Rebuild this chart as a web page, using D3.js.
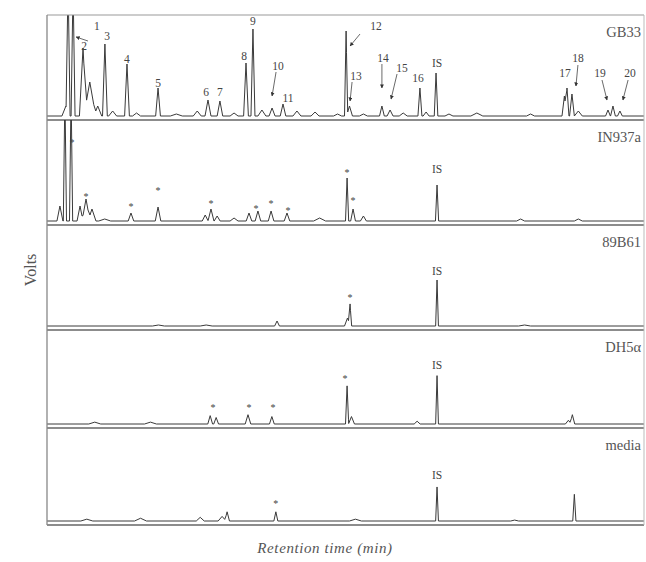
<!DOCTYPE html>
<html>
<head>
<meta charset="utf-8">
<script src="https://cdn.jsdelivr.net/npm/d3@7"></script>
<style>
  html, body { margin: 0; padding: 0; background: #fff; }
  svg { display: block; }
  text { font-family: "Liberation Serif", "DejaVu Serif", serif; }
</style>
</head>
<body>
<svg id="chart" width="646" height="562"></svg>
<script>
// ---------------- DATA ----------------
const samples = ["GB33", "IN937a", "89B61", "DH5\u03b1", "media"];

// peaks: [retention time (min), height (relative volts), half-width (min)]
const peaksGB33 = [
  [0.95, 0.10, 0.2], [1.06, 1.30, 0.1], [1.31, 1.30, 0.1], [1.81, 0.68, 0.18], [2.15, 0.34, 0.3],
  [2.55, 0.10, 0.2], [2.91, 0.72, 0.12], [3.3, 0.05, 0.2], [4.02, 0.52, 0.12], [4.5, 0.03, 0.2],
  [5.58, 0.28, 0.12], [6.5, 0.02, 0.3], [7.55, 0.05, 0.2], [8.09, 0.16, 0.15], [8.69, 0.15, 0.14],
  [9.4, 0.03, 0.2], [10.0, 0.53, 0.12], [10.35, 0.87, 0.1], [10.8, 0.06, 0.2], [11.31, 0.08, 0.15],
  [11.86, 0.12, 0.14], [12.56, 0.05, 0.2], [13.47, 0.04, 0.2], [14.6, 0.02, 0.2], [15.03, 0.85, 0.08],
  [15.2, 0.10, 0.15], [15.9, 0.02, 0.2], [16.83, 0.10, 0.12], [17.24, 0.06, 0.15], [17.9, 0.03, 0.2],
  [18.74, 0.28, 0.1], [19.05, 0.04, 0.15], [19.55, 0.43, 0.09], [20.2, 0.02, 0.2], [21.6, 0.03, 0.3],
  [24.3, 0.02, 0.2], [26.0, 0.20, 0.12], [26.13, 0.28, 0.1], [26.38, 0.22, 0.12], [26.7, 0.05, 0.2],
  [28.19, 0.06, 0.12], [28.44, 0.10, 0.12], [28.79, 0.05, 0.12]
];
const peaksIN937a = [
  [0.65, 0.15, 0.15], [0.90, 1.30, 0.08], [1.21, 1.30, 0.08], [1.66, 0.15, 0.15], [1.96, 0.22, 0.2],
  [2.26, 0.12, 0.2], [2.9, 0.02, 0.3], [4.22, 0.08, 0.14], [5.58, 0.14, 0.14], [7.95, 0.06, 0.15],
  [8.24, 0.12, 0.15], [8.55, 0.05, 0.15], [9.4, 0.03, 0.2], [10.15, 0.08, 0.14], [10.6, 0.10, 0.14],
  [11.26, 0.10, 0.14], [12.06, 0.08, 0.14], [13.7, 0.03, 0.3], [15.08, 0.43, 0.08], [15.38, 0.12, 0.12],
  [15.9, 0.05, 0.15], [19.6, 0.36, 0.08], [23.8, 0.02, 0.2], [26.7, 0.02, 0.2]
];
const peaks89B61 = [
  [5.6, 0.01, 0.3], [8.0, 0.01, 0.3], [11.56, 0.05, 0.12], [15.1, 0.08, 0.15], [15.23, 0.21, 0.08],
  [19.6, 0.46, 0.07], [24.0, 0.01, 0.3]
];
const peaksDH5a = [
  [2.4, 0.02, 0.3], [5.2, 0.02, 0.3], [8.2, 0.09, 0.12], [8.5, 0.07, 0.12], [10.1, 0.10, 0.14],
  [11.3, 0.08, 0.12], [15.08, 0.41, 0.08], [15.3, 0.08, 0.15], [18.6, 0.03, 0.15], [19.6, 0.52, 0.07],
  [26.2, 0.04, 0.15], [26.4, 0.10, 0.12]
];
const peaksMedia = [
  [2.0, 0.02, 0.3], [4.7, 0.03, 0.3], [7.7, 0.04, 0.2], [8.8, 0.05, 0.2], [9.05, 0.10, 0.12],
  [11.5, 0.10, 0.1], [15.5, 0.02, 0.3], [19.6, 0.37, 0.07], [23.5, 0.01, 0.2], [26.5, 0.29, 0.08]
];
const panelPeaks = [peaksGB33, peaksIN937a, peaks89B61, peaksDH5a, peaksMedia];

// peak labels: [text, time, height]
const labelsGB33 = [
  ["1", 2.51, 0.90], ["2", 1.86, 0.70], ["3", 3.02, 0.80], ["4", 4.02, 0.57], ["5", 5.58, 0.33],
  ["6", 7.99, 0.24], ["7", 8.69, 0.24], ["8", 9.90, 0.60], ["9", 10.35, 0.95], ["10", 11.61, 0.50],
  ["11", 12.11, 0.18], ["12", 16.53, 0.90], ["13", 15.53, 0.40], ["14", 16.88, 0.58], ["15", 17.84, 0.48],
  ["16", 18.64, 0.38], ["IS", 19.60, 0.53], ["17", 26.03, 0.43], ["18", 26.68, 0.58], ["19", 27.79, 0.43],
  ["20", 29.30, 0.43]
];
const labelsIN937a = [
  ["*", 1.26, 0.79], ["*", 1.96, 0.25], ["*", 4.22, 0.15], ["*", 5.58, 0.31], ["*", 8.24, 0.18],
  ["*", 10.5, 0.13], ["*", 11.26, 0.18], ["*", 12.11, 0.11], ["*", 15.08, 0.49], ["*", 15.38, 0.21],
  ["IS", 19.6, 0.52]
];
const labels89B61 = [["*", 15.23, 0.29], ["IS", 19.6, 0.55]];
const labelsDH5a = [
  ["*", 8.34, 0.18], ["*", 10.15, 0.18], ["*", 11.36, 0.18], ["*", 14.97, 0.49], ["IS", 19.6, 0.63]
];
const labelsMedia = [["*", 11.5, 0.19], ["IS", 19.6, 0.50]];
const panelLabels = [labelsGB33, labelsIN937a, labels89B61, labelsDH5a, labelsMedia];

// arrows in GB33 panel: [t0, v0, t1, v1]
const arrowsGB33 = [
  [2.06, 0.75, 1.46, 0.79], [11.51, 0.44, 11.31, 0.20], [15.73, 0.82, 15.23, 0.70],
  [15.33, 0.34, 15.23, 0.15], [16.83, 0.52, 16.83, 0.28], [17.59, 0.42, 17.29, 0.17],
  [26.68, 0.51, 26.58, 0.30], [27.89, 0.36, 28.14, 0.16], [29.2, 0.36, 28.94, 0.16]
];

const xDomain = [0, 30];
const yDomain = [0, 1];

// ---------------- LAYOUT ----------------
const left = 47, right = 644;
const bounds = [15, 120, 225, 330, 428, 525];
const svg = d3.select("#chart");
const x = d3.scaleLinear().domain(xDomain).range([left, right]);

const defs = svg.append("defs");
defs.append("marker").attr("id", "arr").attr("viewBox", "0 0 10 10")
  .attr("refX", 9).attr("refY", 5).attr("markerWidth", 5).attr("markerHeight", 5)
  .attr("orient", "auto")
  .append("path").attr("d", "M0,0 L10,5 L0,10 Z").attr("fill", "#333");

const ink = "#3a3a3a";

samples.forEach((name, i) => {
  const top = bounds[i], bottom = bounds[i + 1];
  const base = bottom - 4;
  const y = d3.scaleLinear().domain(yDomain).range([base, top + 1]);
  const g = svg.append("g");

  defs.append("clipPath").attr("id", "clip" + i)
    .append("rect").attr("x", left).attr("y", top).attr("width", right - left).attr("height", bottom - top);

  // Build trace from peak list (sum of triangular peaks evaluated at knots)
  const peaks = panelPeaks[i];
  const knots = new Set([xDomain[0], xDomain[1]]);
  peaks.forEach(([t, h, w]) => { knots.add(t - w); knots.add(t); knots.add(t + w); });
  const ts = Array.from(knots).filter(t => t >= xDomain[0] && t <= xDomain[1]).sort((a, b) => a - b);
  const val = t => d3.sum(peaks, ([pt, h, w]) => Math.max(0, h * (1 - Math.abs(t - pt) / w)));
  const pts = ts.map(t => [t, val(t)]);

  const line = d3.line().x(d => x(d[0])).y(d => y(d[1]));
  g.append("path").attr("clip-path", `url(#clip${i})`)
    .attr("d", line(pts)).attr("fill", "none").attr("stroke", ink).attr("stroke-width", 1.0)
    .attr("stroke-linejoin", "round");

  // peak labels
  g.selectAll("text.pk").data(panelLabels[i]).join("text")
    .attr("class", "pk")
    .attr("x", d => x(d[1])).attr("y", d => y(d[2]))
    .attr("text-anchor", "middle").attr("dominant-baseline", "central")
    .attr("font-size", d => d[0] === "*" ? 10 : 11.5).attr("fill", "#444")
    .text(d => d[0]);

  // sample name
  svg.append("text").attr("x", 641).attr("y", top + 22)
    .attr("text-anchor", "end").attr("font-size", 14.5).attr("fill", "#555")
    .text(name);

  // separator line at bottom of panel
  svg.append("line").attr("x1", left).attr("x2", right).attr("y1", bottom).attr("y2", bottom)
    .attr("stroke", "#666").attr("stroke-width", 1.4);
});

// arrows
const y0 = d3.scaleLinear().domain(yDomain).range([bounds[1] - 4, bounds[0] + 1]);
svg.append("g").selectAll("line").data(arrowsGB33).join("line")
  .attr("x1", d => x(d[0])).attr("y1", d => y0(d[1]))
  .attr("x2", d => x(d[2])).attr("y2", d => y0(d[3]))
  .attr("stroke", "#444").attr("stroke-width", 0.8).attr("marker-end", "url(#arr)");

// frame: top and left/right lines
svg.append("line").attr("x1", left).attr("x2", right).attr("y1", bounds[0]).attr("y2", bounds[0])
  .attr("stroke", "#999").attr("stroke-width", 1);
svg.append("line").attr("x1", left).attr("x2", left).attr("y1", bounds[0]).attr("y2", bounds[5])
  .attr("stroke", "#888").attr("stroke-width", 1.3);
svg.append("line").attr("x1", right).attr("x2", right).attr("y1", bounds[0]).attr("y2", bounds[5])
  .attr("stroke", "#bbb").attr("stroke-width", 1);

// axis titles
svg.append("text").attr("transform", "translate(36,270) rotate(-90)")
  .attr("text-anchor", "middle").attr("font-size", 16).attr("fill", "#555").text("Volts");
svg.append("text").attr("x", 325).attr("y", 553)
  .attr("text-anchor", "middle").attr("font-size", 15).attr("font-style", "italic")
  .attr("fill", "#555").attr("letter-spacing", 0.6).text("Retention time (min)");
</script>
</body>
</html>
